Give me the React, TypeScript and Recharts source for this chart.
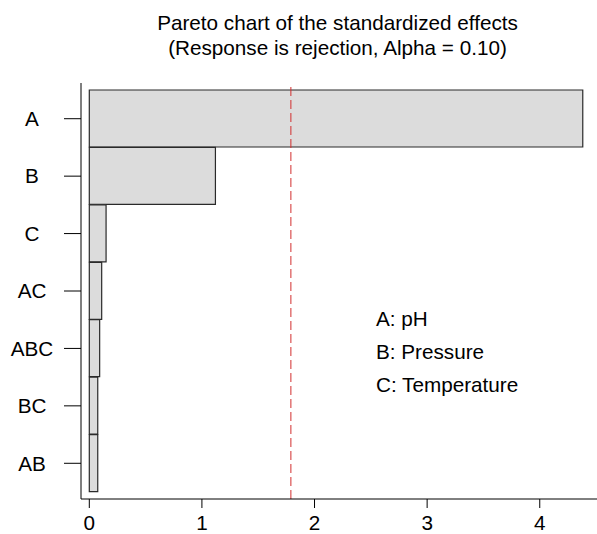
import React from "react";
import { BarChart, Bar, XAxis, YAxis, ReferenceLine } from "recharts";

const effectNames = ["A", "B", "C", "AC", "ABC", "BC", "AB"];
const effectValues = [4.382, 1.12, 0.149, 0.11, 0.092, 0.075, 0.075];
const xTicks = [0, 1, 2, 3, 4];
const criticalValue = 1.79;
const titleLines = ["Pareto chart of the standardized effects", "(Response is rejection, Alpha = 0.10)"];
const legendLines = ["A: pH", "B: Pressure", "C: Temperature"];

const data = effectNames.map((name, i) => ({ name, value: effectValues[i] }));

const FONT = "'Liberation Sans', Arial, Helvetica, sans-serif";
const FS = 20.7;
const DOMAIN: [number, number] = [-0.0737, 4.535];

const YTick = (props: any) => {
  const { x, y, payload } = props;
  return (
    <text x={x - 32} y={y} dy="0.355em" textAnchor="middle" fontSize={FS} fontFamily={FONT} fill="#000">
      {payload.value}
    </text>
  );
};

export default function App() {
  return (
    <div style={{ position: "absolute", left: 0, top: 0, width: 597, height: 534, overflow: "hidden", background: "#fff" }}>
      <BarChart
        width={600}
        height={534}
        layout="vertical"
        data={data}
        margin={{ top: 83, right: 0, bottom: 0, left: 0 }}
        barCategoryGap={0}
        style={{ fontFamily: FONT }}
      >
        <XAxis
          type="number"
          domain={DOMAIN}
          allowDataOverflow
          ticks={xTicks}
          tickSize={9}
          tickMargin={7}
          height={35}
          axisLine={{ stroke: "#000" }}
          tickLine={{ stroke: "#000" }}
          tick={{ fill: "#000", fontSize: FS, fontFamily: FONT }}
        />
        <XAxis
          xAxisId="top"
          orientation="top"
          type="number"
          domain={DOMAIN}
          allowDataOverflow
          height={0}
          tick={false}
          tickLine={false}
          axisLine={{ stroke: "#000" }}
        />
        <YAxis
          type="category"
          dataKey="name"
          width={81}
          tickSize={17}
          tickMargin={0}
          padding={{ top: 7, bottom: 7 }}
          axisLine={{ stroke: "#000" }}
          tickLine={{ stroke: "#000" }}
          tick={<YTick />}
          interval={0}
        />
        <Bar dataKey="value" fill="#dcdcdc" stroke="#2a2a2a" strokeWidth={1.2} isAnimationActive={false} />
        <ReferenceLine x={criticalValue} stroke="#d22e2e" strokeDasharray="9 4" strokeWidth={1} />
      </BarChart>
      <svg width={597} height={534} style={{ position: "absolute", left: 0, top: 0, pointerEvents: "none" }}>
        {titleLines.map((t, i) => (
          <text key={t} x={337.5} y={30 + i * 25} textAnchor="middle" fontSize={FS} fontFamily={FONT} fill="#000">
            {t}
          </text>
        ))}
        {legendLines.map((t, i) => (
          <text key={t} x={376} y={326 + i * 33} fontSize={FS} fontFamily={FONT} fill="#000">
            {t}
          </text>
        ))}
      </svg>
    </div>
  );
}
